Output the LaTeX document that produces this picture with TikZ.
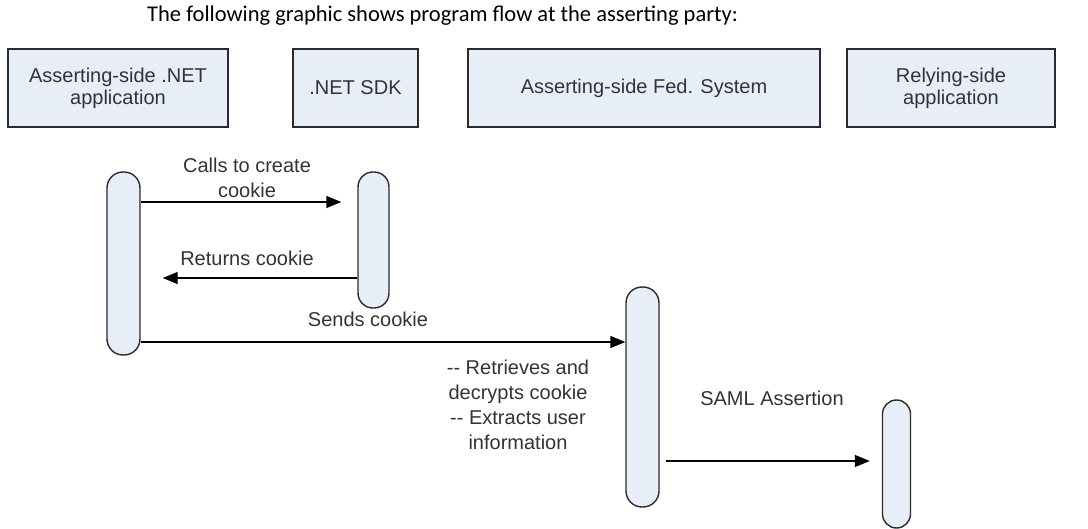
\documentclass[tikz,border=0pt]{standalone}
\usepackage{fontspec}
\setmainfont{Liberation Sans}
\newfontfamily\titlefont{Carlito}
\usetikzlibrary{arrows.meta}
\definecolor{boxfill}{HTML}{E8EEF8}
\definecolor{edgec}{HTML}{2B2B2B}
\definecolor{txtc}{HTML}{333333}
\begin{document}
\begin{tikzpicture}[x=1pt,y=-1pt,
  hdr/.style={draw=edgec, line width=1.6pt, fill=boxfill, inner sep=0pt, align=center, text=txtc, font=\fontsize{20}{22}\selectfont},
  actbar/.style={draw=edgec, line width=1.4pt, fill=boxfill, inner sep=0pt, rounded corners=#1},
  lbl/.style={align=center, text=txtc, font=\fontsize{20}{25}\selectfont, inner sep=0pt},
  msg/.style={line width=1.4pt, draw=black, -{Triangle[length=15pt,width=12pt]}}
]
\useasboundingbox (0,0) rectangle (1088,529);
\fill[white] (0,0) rectangle (1088,529);

\node[anchor=west, inner sep=0pt, font=\titlefont\fontsize{22.5}{27}\selectfont] (title) at (147,16) {The following graphic shows program flow at the asserting party:};

% header boxes
\node[hdr, minimum width=220pt, minimum height=78pt] (b1) at (118,88) {Asserting-side .NET\\application};
\node[hdr, minimum width=125pt, minimum height=78pt] (b2) at (355.5,88) {.NET SDK};
\node[hdr, minimum width=352pt, minimum height=78pt] (b3) at (644,88) {Asserting-side Fed. System};
\node[hdr, minimum width=208pt, minimum height=78pt] (b4) at (951,88) {Relying-side\\application};

% activation bars
\node[actbar=16pt, minimum width=33pt, minimum height=183pt] (L) at (123.5,263.5) {};
\node[actbar=15pt, minimum width=31pt, minimum height=136pt] (S) at (373.5,240) {};
\node[actbar=16pt, minimum width=33pt, minimum height=220pt] (F) at (642.5,397) {};
\node[actbar=14pt, minimum width=28pt, minimum height=128pt] (R) at (896.5,464) {};

% message rows
\coordinate (y1) at (0,202);
\coordinate (y2) at (0,278);
\coordinate (y3) at (0,342);
\coordinate (y4) at (0,461);

\draw[msg] (L.east |- y1) -- ([xshift=-16pt]S.west |- y1);
\draw[msg] (S.west |- y2) -- ([xshift=22pt]L.east |- y2);
\draw[msg] (L.east |- y3) -- (F.west |- y3);
\draw[msg] ([xshift=6pt]F.east |- y4) -- ([xshift=-12pt]R.west |- y4);

% labels
\node[lbl] (m1) at (247,177.5) {Calls to create\\cookie};
\node[lbl] (m2) at (247,258) {Returns cookie};
\node[lbl] (m3) at (368,319) {Sends cookie};
\node[lbl] (m4) at (518,404.5) {-{}- Retrieves and\\decrypts cookie\\-{}- Extracts user\\information};
\node[lbl] (m5) at (772,398) {SAML Assertion};
\end{tikzpicture}
\end{document}
